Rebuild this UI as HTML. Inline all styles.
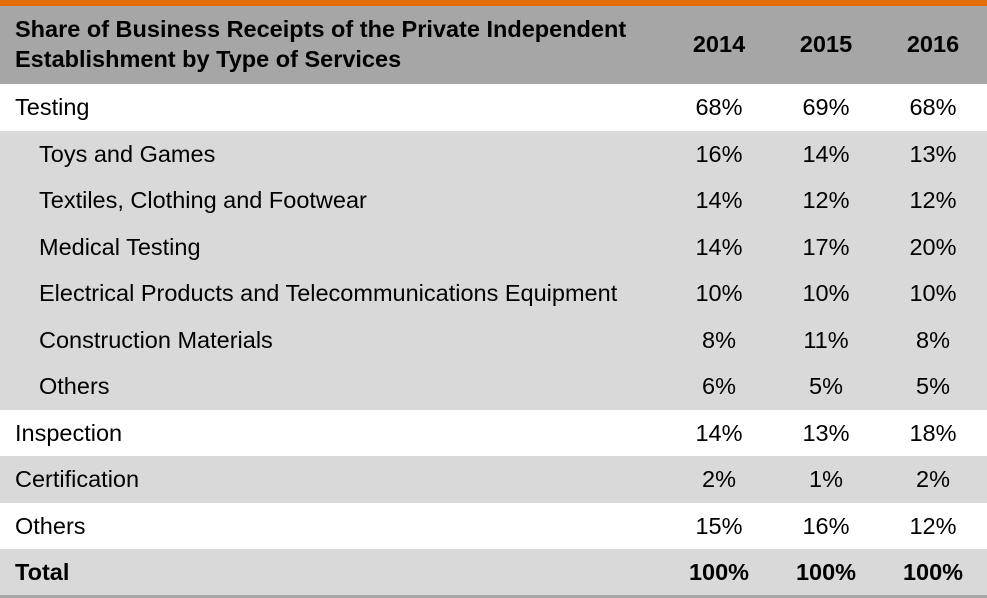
<!DOCTYPE html>
<html><head><meta charset="utf-8"><style>
body{margin:0;width:987px;height:598px;overflow:hidden;background:#fff;font-family:"Liberation Sans",Arial,sans-serif;color:#000;}
.bar{position:absolute;left:0;top:0;width:987px;height:6px;background:#e46c0a;}
.hdr{position:absolute;left:0;top:6px;width:987px;height:78px;background:#a6a6a6;}
.row{position:absolute;left:0;width:987px;height:46.5px;}
.g{background:#d9d9d9;}
.t{position:absolute;font-size:23.5px;line-height:46.5px;white-space:nowrap;}
.v{position:absolute;width:100px;text-align:center;font-size:23.5px;line-height:46.5px;}
.b{font-weight:bold;}
.bot{position:absolute;left:0;top:595px;width:987px;height:3px;background:#a6a6a6;}
</style></head><body>
<div class="bar"></div>
<div class="hdr">
 <div class="t b" style="left:15px;top:8px;line-height:30px;font-size:23.5px;">Share of Business Receipts of the Private Independent<br>Establishment by Type of Services</div>
 <div class="v b" style="left:669px;top:15px;">2014</div>
 <div class="v b" style="left:776px;top:15px;">2015</div>
 <div class="v b" style="left:883px;top:15px;">2016</div>
</div>
<div id="body"></div>
<div class="bot"></div>
<script>
const labels=["Testing","Toys and Games","Textiles, Clothing and Footwear","Medical Testing","Electrical Products and Telecommunications Equipment","Construction Materials","Others","Inspection","Certification","Others","Total"];
const v2014=["68%","16%","14%","14%","10%","8%","6%","14%","2%","15%","100%"];
const v2015=["69%","14%","12%","17%","10%","11%","5%","13%","1%","16%","100%"];
const v2016=["68%","13%","12%","20%","10%","8%","5%","18%","2%","12%","100%"];
const indent=[0,1,1,1,1,1,1,0,0,0,0];
const gray=[0,1,1,1,1,1,1,0,1,0,1];
const body=document.getElementById('body');
labels.forEach((l,i)=>{
 const r=document.createElement('div');
 r.className='row'+(gray[i]?' g':'');
 r.style.top=(84+i*46.5)+'px';
 
 
 const bold=i===labels.length-1?' b':'';
 const t=document.createElement('div');
 t.className='t'+bold;t.style.left=(indent[i]?39:15)+'px';t.textContent=l;
 
 
 r.appendChild(t);
 [[v2014,669],[v2015,776],[v2016,883]].forEach(([a,x])=>{
  const c=document.createElement('div');
  c.className='v'+bold;c.style.left=x+'px';c.textContent=a[i];
  
  
  r.appendChild(c);
 });
 body.appendChild(r);
});
</script>
</body></html>
